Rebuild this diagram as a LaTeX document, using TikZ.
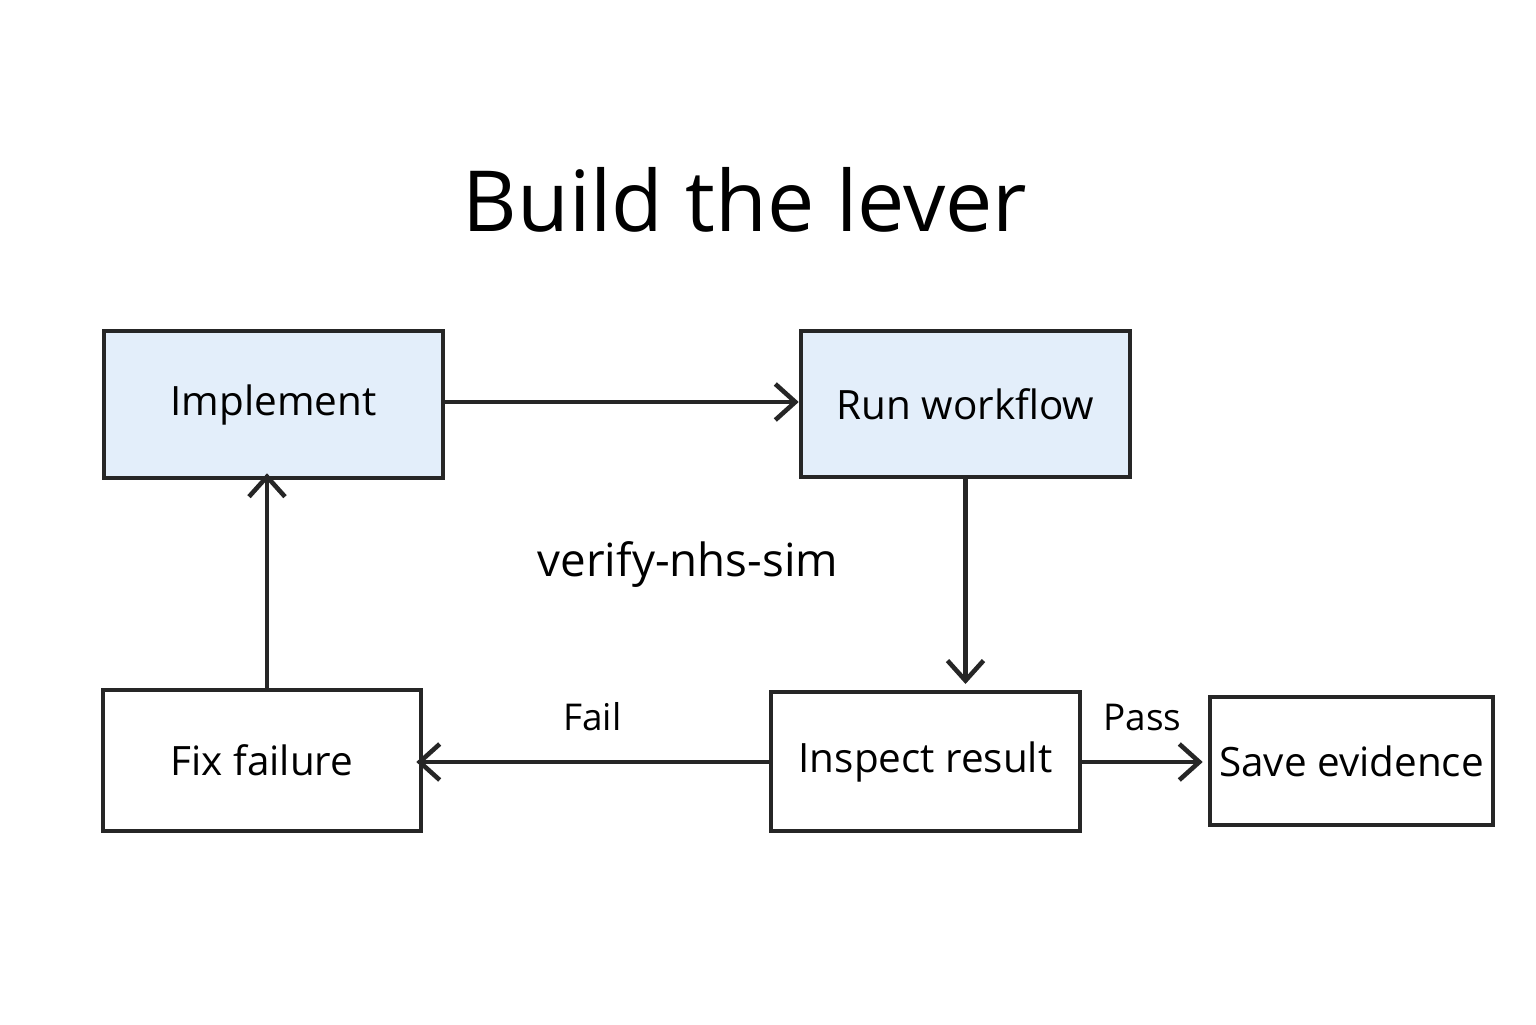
\documentclass[tikz,border=0pt]{standalone}
\usepackage{fontspec}
\setmainfont{Open Sans}
\usetikzlibrary{arrows.meta}
\definecolor{boxblue}{HTML}{E3EEFA}
\begin{document}
\begin{tikzpicture}[
  box/.style={draw=black!85, line width=1.3pt, inner sep=0pt, font=\fontsize{11.5}{14}\selectfont},
  link/.style={draw=black!85, line width=1.3pt, -{Straight Barb[length=2mm,width=3.6mm]}}
]
\useasboundingbox (0,0) rectangle (15.36,10.24);
% title
\node (title) at (7.45,8.24) {\fontsize{24}{28}\selectfont Build the lever};
% boxes
\node[box, fill=boxblue, minimum width=3.39cm, minimum height=1.47cm] (impl) at (2.735,6.195) {Implement};
\node[box, fill=boxblue, minimum width=3.29cm, minimum height=1.46cm] (run) at (9.655,6.20) {Run workflow};
\node[box, minimum width=3.18cm, minimum height=1.41cm] (fix) at (2.62,2.635) {Fix failure};
\node[box, minimum width=3.09cm, minimum height=1.39cm] (insp) at (9.255,2.625) {Inspect result};
\node[box, minimum width=2.83cm, minimum height=1.28cm] (save) at (13.515,2.63) {Save evidence};
\node (loop) at (6.88,4.59) {\fontsize{13}{16}\selectfont verify-nhs-sim};
% arrows
\coordinate (runend) at (9.655,3.40);
\draw[link] (impl.east |- 0,6.22) -- (run.west |- 0,6.22);
\draw[link] (run.south) -- (runend);
\draw[link] (insp.west |- 0,2.62) -- node[above=5pt, font=\fontsize{10.5}{12}\selectfont] {Fail} ([xshift=-0.07cm]fix.east |- 0,2.62);
\draw[link] (insp.east |- 0,2.62) -- node[above=5pt, font=\fontsize{10.5}{12}\selectfont] {Pass} ([xshift=-0.05cm]save.west |- 0,2.62);
\draw[link] (fix.north -| 2.67,0) -- ([yshift=0.07cm]impl.south -| 2.67,0);
\end{tikzpicture}
\end{document}
